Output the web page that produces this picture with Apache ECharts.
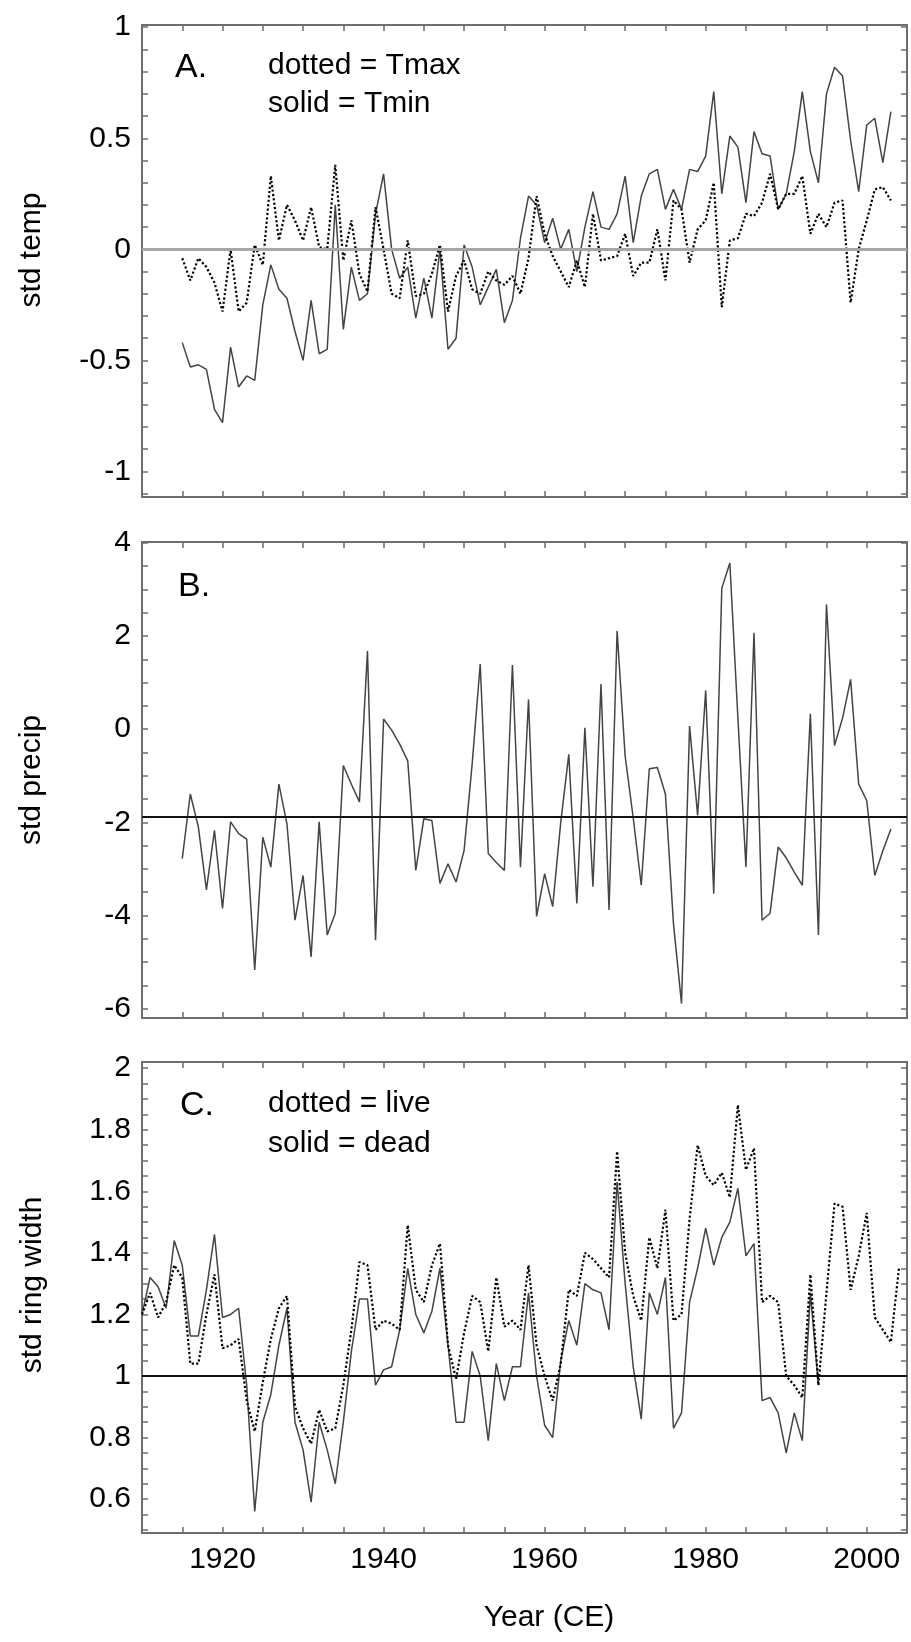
<!DOCTYPE html>
<html><head><meta charset="utf-8">
<script src="https://cdn.jsdelivr.net/npm/echarts@6/dist/echarts.min.js"></script>
<style>html,body{margin:0;padding:0;background:#fff}#c{width:911px;height:1642px}</style>
</head><body><div id="c"></div>
<script>
// ---------- data ----------
const startAB = 1915;   // panels A and B start year
const startC = 1910;    // panel C start year
const tmax = [-0.04,-0.14,-0.04,-0.08,-0.15,-0.28,0.0,-0.28,-0.24,0.02,
  -0.07,0.33,0.04,0.2,0.13,0.04,0.19,0.01,0.0,0.38,
  -0.05,0.13,-0.11,-0.19,0.19,0.0,-0.2,-0.22,0.04,-0.21,
  -0.2,-0.11,0.02,-0.28,-0.12,-0.05,-0.18,-0.2,-0.1,-0.14,
  -0.16,-0.12,-0.2,-0.04,0.24,0.07,-0.03,-0.1,-0.17,-0.05,
  -0.17,0.16,-0.05,-0.04,-0.03,0.07,-0.12,-0.06,-0.06,0.09,
  -0.14,0.22,0.18,-0.06,0.09,0.13,0.3,-0.26,0.04,0.05,
  0.16,0.15,0.21,0.34,0.18,0.25,0.25,0.33,0.07,0.16,
  0.1,0.21,0.22,-0.24,0.0,0.13,0.27,0.28,0.22];
const tmin = [-0.42,-0.53,-0.52,-0.54,-0.72,-0.78,-0.44,-0.62,-0.57,-0.59,
  -0.25,-0.07,-0.18,-0.22,-0.37,-0.5,-0.23,-0.47,-0.45,0.2,
  -0.36,-0.08,-0.23,-0.2,0.16,0.34,0.0,-0.13,-0.08,-0.31,
  -0.13,-0.31,0.0,-0.45,-0.4,0.02,-0.08,-0.25,-0.17,-0.09,
  -0.33,-0.23,0.05,0.24,0.2,0.03,0.14,0.0,0.09,-0.1,
  0.1,0.26,0.1,0.09,0.16,0.33,0.03,0.24,0.34,0.36,
  0.18,0.27,0.18,0.36,0.35,0.42,0.71,0.25,0.51,0.46,
  0.21,0.53,0.43,0.42,0.18,0.25,0.44,0.71,0.44,0.3,
  0.7,0.82,0.78,0.49,0.26,0.56,0.59,0.39,0.62];
const precip = [-2.78,-1.39,-2.10,-3.45,-2.17,-3.85,-1.99,-2.24,-2.36,-5.17,
  -2.32,-2.96,-1.18,-2.03,-4.10,-3.14,-4.89,-1.99,-4.42,-3.95,
  -0.78,-1.18,-1.56,1.68,-4.53,0.22,-0.02,-0.32,-0.68,-3.03,
  -1.92,-1.96,-3.31,-2.89,-3.28,-2.6,-0.75,1.40,-2.67,-2.86,
  -3.03,1.38,-2.96,0.64,-4.02,-3.10,-3.81,-2.0,-0.54,-3.74,
  0.03,-3.38,0.97,-3.88,2.11,-0.58,-1.90,-3.35,-0.85,-0.82,
  -1.39,-4.18,-5.89,0.07,-1.85,0.83,-3.53,3.03,3.57,0.24,
  -2.96,2.07,-4.10,-3.95,-2.53,-2.76,-3.07,-3.35,0.33,-4.42,
  2.68,-0.35,0.24,1.07,-1.18,-1.53,-3.14,-2.61,-2.14];
const live = [1.2,1.27,1.19,1.24,1.36,1.32,1.04,1.04,1.2,1.33,
  1.09,1.1,1.12,0.92,0.82,0.98,1.12,1.22,1.26,0.9,
  0.83,0.78,0.89,0.82,0.83,0.97,1.15,1.37,1.36,1.15,
  1.18,1.17,1.15,1.49,1.28,1.24,1.36,1.43,1.1,0.99,
  1.14,1.26,1.24,1.08,1.32,1.16,1.18,1.15,1.36,1.1,
  1.0,0.92,1.04,1.28,1.26,1.4,1.38,1.35,1.32,1.73,
  1.4,1.26,1.18,1.45,1.35,1.54,1.18,1.2,1.51,1.75,
  1.65,1.62,1.66,1.58,1.88,1.67,1.74,1.24,1.26,1.24,
  1.0,0.97,0.93,1.33,0.97,1.27,1.56,1.55,1.28,1.39,
  1.53,1.19,1.15,1.11,1.35];
const dead = [1.2,1.32,1.29,1.22,1.44,1.36,1.13,1.13,1.28,1.46,
  1.19,1.2,1.22,0.97,0.56,0.85,0.94,1.1,1.22,0.85,
  0.76,0.59,0.85,0.76,0.65,0.85,1.08,1.25,1.25,0.97,
  1.02,1.03,1.15,1.35,1.2,1.14,1.21,1.35,1.1,0.85,
  0.85,1.08,1.0,0.79,1.04,0.92,1.03,1.03,1.27,1.0,
  0.84,0.8,1.05,1.18,1.1,1.3,1.28,1.27,1.15,1.63,
  1.3,1.03,0.86,1.27,1.2,1.32,0.83,0.88,1.24,1.35,
  1.48,1.36,1.45,1.5,1.61,1.39,1.43,0.92,0.93,0.88,
  0.75,0.88,0.79,1.27,0.97];
const refA = 0, refB = -1.87, refC = 1;
const xTickLabels = [1920, 1940, 1960, 1980, 2000];
const yTickLabelsA = [-1, -0.5, 0, 0.5, 1];
const yTickLabelsB = [-6, -4, -2, 0, 2, 4];
const yTickLabelsC = [0.6, 0.8, 1, 1.2, 1.4, 1.6, 1.8, 2];

// ---------- helpers ----------
function pairs(start, arr) { return arr.map((v, i) => [start + i, v]); }
function steps(a, b, s) { const r = []; for (let k = 0; a + k * s <= b + 1e-9; k++) r.push(+(a + k * s).toFixed(4)); return r; }

const FONT = '"Liberation Sans", Arial, Helvetica, sans-serif';
const FS = 30;
const AX = '#6e6e6e';
const TXT = '#000';

const grids = [
  { left: 142, right: 4, top: 25, height: 472 },
  { left: 142, right: 4, top: 542, height: 476 },
  { left: 142, right: 4, top: 1062, height: 471 }
];
const yRanges = [[-1.115, 1.01], [-6.2, 4.02], [0.49, 2.02]];
const yTicks = [steps(-1.1, 1.0, 0.1), steps(-6, 4, 0.5), steps(0.5, 2.0, 0.05)];
const yLabels = [yTickLabelsA, yTickLabelsB, yTickLabelsC];

const xAxes = [], yAxes = [];
for (let i = 0; i < 3; i++) {
  ['bottom', 'top'].forEach(pos => {
    xAxes.push({
      type: 'value', gridIndex: i, position: pos, min: 1910, max: 2005, interval: 5,
      axisLine: { show: true, onZero: false, lineStyle: { color: AX, width: 2 } },
      axisTick: { show: true, inside: true, length: 6, lineStyle: { color: AX, width: 1.5 } },
      axisLabel: { show: (i === 2 && pos === 'bottom'), customValues: xTickLabels, formatter: v => String(v),
        margin: 12, fontSize: FS, color: TXT, fontFamily: FONT },
      splitLine: { show: false }
    });
  });
  ['left', 'right'].forEach(pos => {
    yAxes.push({
      type: 'value', gridIndex: i, position: pos, min: yRanges[i][0], max: yRanges[i][1],
      axisLine: { show: true, onZero: false, lineStyle: { color: AX, width: 2 } },
      axisTick: { show: true, inside: true, length: 6, customValues: yTicks[i], lineStyle: { color: AX, width: 1.5 } },
      axisLabel: { show: pos === 'left', customValues: yLabels[i], formatter: v => String(v),
        margin: 11, fontSize: FS, color: TXT, fontFamily: FONT },
      splitLine: { show: false }
    });
  });
}

function refLine(i, val, color, width) {
  return { type: 'line', xAxisIndex: 2 * i, yAxisIndex: 2 * i, data: [], symbol: 'none', silent: true, z: 1,
    markLine: { silent: true, symbol: 'none', label: { show: false }, animation: false,
      lineStyle: { color: color, width: width, type: 'solid' }, data: [{ yAxis: val }] } };
}
const dotted = { color: '#000', width: 2.2, type: [2.2, 2.2] };
const solid = { color: '#444', width: 1.5, type: 'solid' };

function txt(x, y, s, size) {
  return { type: 'text', x: x, y: y, silent: true,
    style: { text: s, font: (size || FS) + 'px ' + FONT, fill: TXT, textAlign: 'left', textVerticalAlign: 'middle' } };
}
function vtxt(x, y, s) {
  return { type: 'text', x: x, y: y, rotation: Math.PI / 2, silent: true,
    style: { text: s, font: FS + 'px ' + FONT, fill: TXT, textAlign: 'center', textVerticalAlign: 'middle' } };
}

const option = {
  animation: false,
  backgroundColor: '#fff',
  grid: grids,
  xAxis: xAxes,
  yAxis: yAxes,
  series: [
    refLine(0, refA, '#a6a6a6', 3),
    { type: 'line', xAxisIndex: 0, yAxisIndex: 0, data: pairs(startAB, tmax), symbol: 'none', lineStyle: dotted, z: 3 },
    { type: 'line', xAxisIndex: 0, yAxisIndex: 0, data: pairs(startAB, tmin), symbol: 'none', lineStyle: solid, z: 2 },
    refLine(1, refB, '#111', 1.8),
    { type: 'line', xAxisIndex: 2, yAxisIndex: 2, data: pairs(startAB, precip), symbol: 'none', lineStyle: solid, z: 2 },
    refLine(2, refC, '#111', 1.8),
    { type: 'line', xAxisIndex: 4, yAxisIndex: 4, data: pairs(startC, live), symbol: 'none', lineStyle: dotted, z: 3 },
    { type: 'line', xAxisIndex: 4, yAxisIndex: 4, data: pairs(startC, dead), symbol: 'none', lineStyle: solid, z: 2 }
  ],
  graphic: [
    txt(175, 68, 'A.', 34),
    txt(268, 66, 'dotted = Tmax'),
    txt(268, 104, 'solid = Tmin'),
    txt(178, 587, 'B.', 34),
    txt(180, 1106, 'C.', 34),
    txt(268, 1104, 'dotted = live'),
    txt(268, 1144, 'solid = dead'),
    vtxt(32, 250, 'std temp'),
    vtxt(32, 780, 'std precip'),
    vtxt(33, 1285, 'std ring width'),
    { type: 'text', x: 549, y: 1618, silent: true,
      style: { text: 'Year (CE)', font: FS + 'px ' + FONT, fill: TXT, textAlign: 'center', textVerticalAlign: 'middle' } }
  ]
};
const chart = echarts.init(document.getElementById('c'), null, { renderer: 'canvas' });
chart.setOption(option);
</script></body></html>
